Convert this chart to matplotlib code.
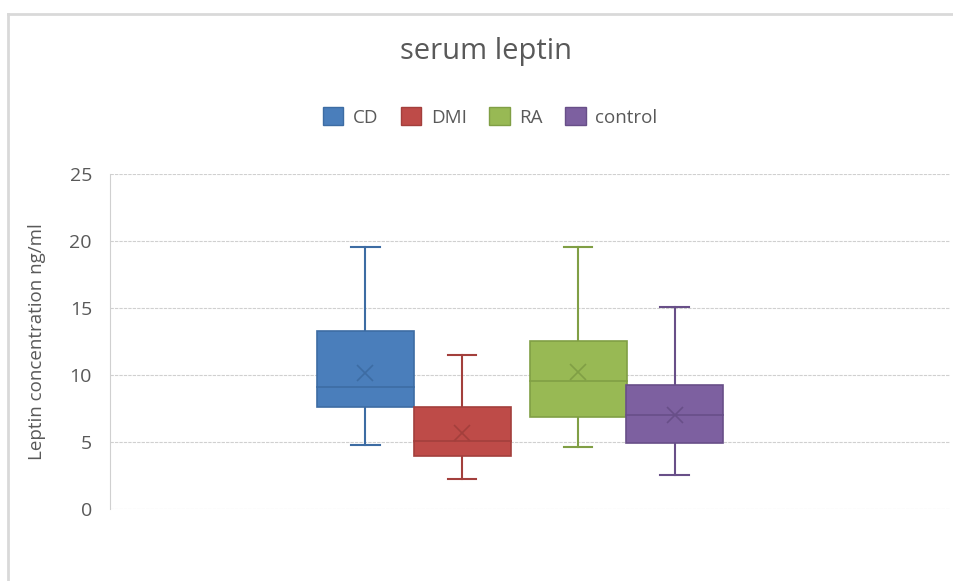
import matplotlib
matplotlib.use("Agg")
import numpy as np
from matplotlib import pyplot as plt
from matplotlib.lines import Line2D
from matplotlib.patches import Rectangle

# Data
skupiny = ["CD", "DMI", "RA", "control"]
whisker_low = [4.78, 2.24, 4.63, 2.51]
q1 = [7.6, 3.98, 6.84, 4.9]
median = [9.13, 5.07, 9.55, 7.01]
q3 = [13.3, 7.64, 12.54, 9.28]
whisker_high = [19.55, 11.5, 19.55, 15.05]
mean = [10.15, 5.67, 10.25, 7.0]

barvy = ["#4a7ebb", "#be4b48", "#98b954", "#7d60a0"]
okraje = ["#3d6ca3", "#a33f3c", "#809f45", "#684f88"]

TEXT = "#595959"
plt.rcParams["font.family"] = ["Open Sans", "DejaVu Sans"]

fig = plt.figure(figsize=(9.54, 5.81), dpi=100)

# outer chart border (left + top)
fig.add_artist(Line2D([8 / 954, 8 / 954], [0, 1 - 14 / 581], color="#d9d9d9", lw=2, transform=fig.transFigure))
fig.add_artist(Line2D([8 / 954, 1], [1 - 14 / 581, 1 - 14 / 581], color="#d9d9d9", lw=2, transform=fig.transFigure))

ax = fig.add_axes([110 / 954, 72 / 581, 840 / 954, 335 / 581])

pozice = np.array([-1.593, -0.598, 0.598, 1.593])
sirka = 1.0
cap = 0.29

for i in range(len(skupiny)):
    x = pozice[i]
    # whiskers
    ax.plot([x, x], [q3[i], whisker_high[i]], color=okraje[i], lw=1.5, zorder=2)
    ax.plot([x, x], [whisker_low[i], q1[i]], color=okraje[i], lw=1.5, zorder=2)
    ax.plot([x - cap / 2, x + cap / 2], [whisker_high[i]] * 2, color=okraje[i], lw=1.5, zorder=2)
    ax.plot([x - cap / 2, x + cap / 2], [whisker_low[i]] * 2, color=okraje[i], lw=1.5, zorder=2)
    # box
    ax.add_patch(Rectangle((x - sirka / 2, q1[i]), sirka, q3[i] - q1[i],
                           facecolor=barvy[i], edgecolor=okraje[i], lw=1.2, zorder=3))
    ax.plot([x - sirka / 2, x + sirka / 2], [median[i]] * 2, color=okraje[i], lw=1.2, zorder=4)
    ax.plot(x, mean[i], marker="x", ms=12, mew=1.2, color=okraje[i], zorder=5)

ax.set_xlim(-4.227, 4.433)
ax.set_ylim(0, 25)
ax.set_yticks(range(0, 26, 5))
ax.set_xticks([])
ax.yaxis.grid(True, color="#d0d0d0", ls=(0, (3, 1)), lw=0.8)
ax.set_axisbelow(True)
for s in ["top", "right", "bottom"]:
    ax.spines[s].set_visible(False)
ax.spines["left"].set_color("#d0d0d0")
ax.spines["left"].set_linestyle((0, (3, 1)))
ax.spines["left"].set_linewidth(0.8)
ax.tick_params(axis="y", length=0, pad=13, labelsize=14, labelcolor=TEXT)

ax.set_ylabel("Leptin concentration ng/ml", fontsize=13.5, color=TEXT, labelpad=17)

fig.text(486 / 954, 1 - 52 / 581, "serum leptin", ha="center", va="center", fontsize=21, color=TEXT)

handles = [Rectangle((0, 0), 1, 1, facecolor=barvy[i], edgecolor=okraje[i]) for i in range(len(skupiny))]
fig.legend(handles, skupiny, loc="center", bbox_to_anchor=(490 / 954, 1 - 117 / 581), ncol=4,
           frameon=False, fontsize=13.5, labelcolor=TEXT, handlelength=1.1, handleheight=1.1,
           handletextpad=0.5, columnspacing=1.2)

fig.savefig("out.png", dpi=100)
